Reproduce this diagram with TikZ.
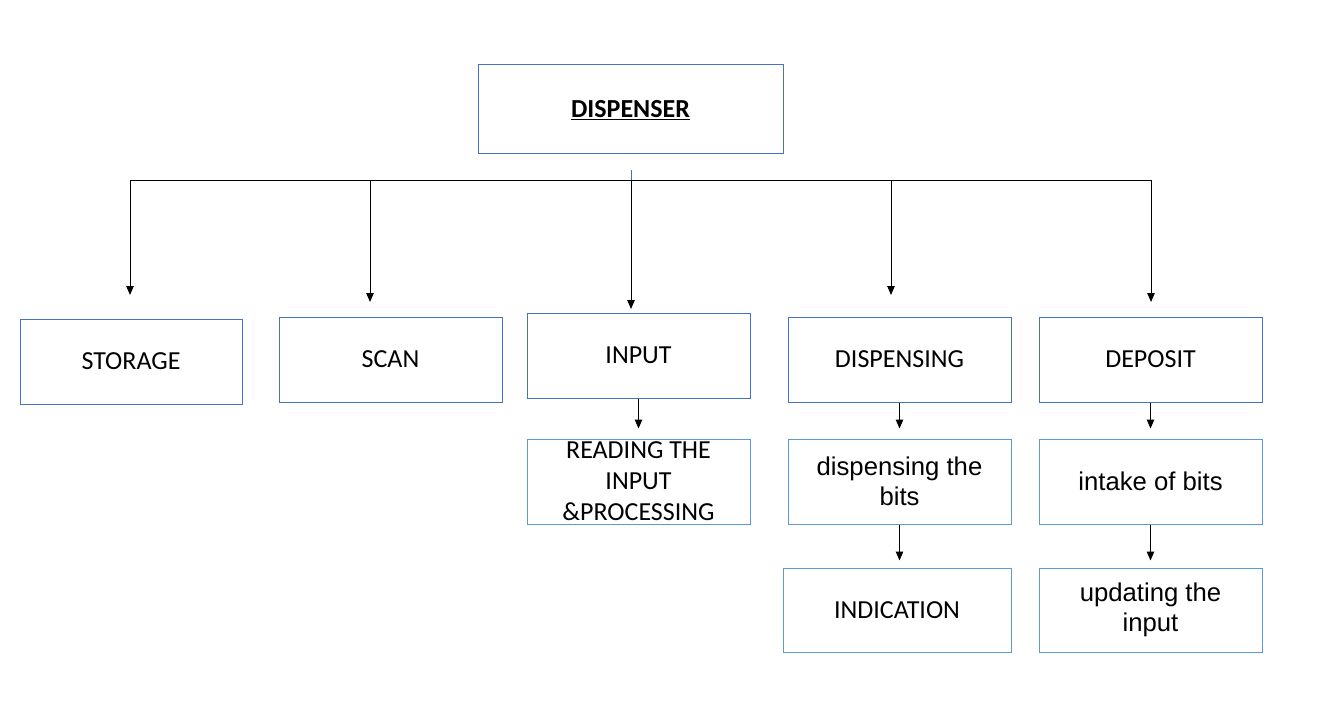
\documentclass[tikz,border=0pt]{standalone}
\usepackage{fontspec}
\setmainfont{Carlito}
\newfontfamily\arialfont{Liberation Sans}
\usetikzlibrary{arrows.meta,calc}
\definecolor{boxdark}{HTML}{4472C4}
\definecolor{boxlight}{HTML}{5B9BD5}
\tikzset{
  topbox/.style={draw=boxdark,line width=1pt,rectangle,inner sep=0pt,align=center,
    font=\fontsize{26}{31}\selectfont},
  subbox/.style={draw=boxlight,line width=1pt,rectangle,inner sep=0pt,align=center,
    font=\fontsize{26}{31}\selectfont},
  arialtext/.style={font=\arialfont\fontsize{25.7}{29.5}\selectfont},
  conn/.style={draw=black,line width=1pt},
  arr/.style={conn,-{Triangle[length=9pt,width=7.5pt]}}
}
\begin{document}
\begin{tikzpicture}[x=1pt,y=-1pt]
\useasboundingbox (0,0) rectangle (1319,706);
% top
\node[topbox,minimum width=305,minimum height=88,font=\fontsize{26}{30}\selectfont\bfseries] (disp) at (630.5,109) {\raisebox{-8.3pt}[0pt][0pt]{\underline{DISPENSER}}};
% level 1
\node[topbox,minimum width=222,minimum height=85] (storage) at (131,361.5) {STORAGE};
\node[topbox,minimum width=223,minimum height=85] (scan) at (390.5,359.5) {SCAN};
\node[topbox,minimum width=223,minimum height=85] (input) at (638.5,355.5) {INPUT};
\node[topbox,minimum width=223,minimum height=85] (dispensing) at (899.5,359.5) {DISPENSING};
\node[topbox,minimum width=223,minimum height=85] (deposit) at (1150.5,359.5) {DEPOSIT};
% level 2
\node[subbox,minimum width=223,minimum height=85] (reading) at (638.5,481.5) {READING THE\\INPUT\\\&PROCESSING};
\node[subbox,arialtext,minimum width=223,minimum height=85] (dbits) at (899.5,481.5) {dispensing the\\bits};
\node[subbox,arialtext,minimum width=223,minimum height=85] (intake) at (1150.5,481.5) {intake of bits};
% level 3
\node[subbox,minimum width=228,minimum height=84] (ind) at (897,610) {INDICATION};
\node[subbox,arialtext,minimum width=223,minimum height=84] (upd) at (1150.5,610) {updating the\\input};
% tree connectors
\coordinate (j) at (631,180);
\coordinate (jtop) at (631,170);
\coordinate (hl) at (130,180);
\coordinate (hr) at (1151,180);
\coordinate (b2) at (370,180);
\coordinate (b4) at (891,180);
\coordinate (t1) at (130,295);
\coordinate (t2) at (370,302);
\coordinate (t3) at (631,309);
\coordinate (t4) at (891,295);
\coordinate (t5) at (1151,302);
\draw[draw=boxdark,line width=1pt] (jtop) -- (j);
\draw[conn] (hl) -- (hr);
\draw[arr] (hl) -- (t1);
\draw[arr] (b2) -- (t2);
\draw[arr] (j) -- (t3);
\draw[arr] (b4) -- (t4);
\draw[arr] (hr) -- (t5);
% sub connectors
\draw[arr,shorten >=10pt] (input.south) -- (reading.north);
\draw[arr,shorten >=10pt] (dispensing.south) -- (dbits.north);
\draw[arr,shorten >=7pt] (dbits.south) -- (dbits.south |- ind.north);
\draw[arr,shorten >=10pt] (deposit.south) -- (intake.north);
\draw[arr,shorten >=7pt] (intake.south) -- (upd.north);
\end{tikzpicture}
\end{document}
